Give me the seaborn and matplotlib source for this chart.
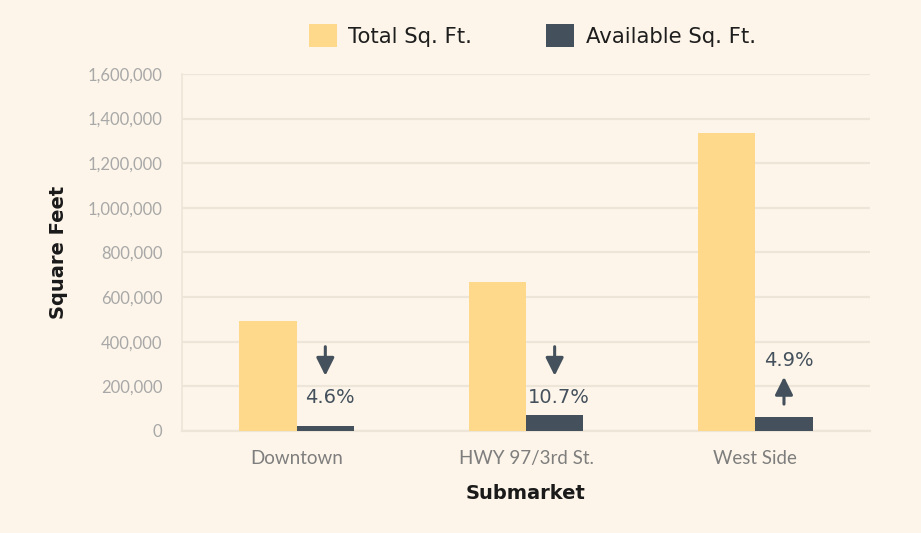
import pandas as pd
import matplotlib.pyplot as plt
import seaborn as sns
from matplotlib.patches import Patch

# ── data ───────────────────────────────────────────
submarkets = ['Downtown', 'HWY 97/3rd St.', 'West Side']
total_sqft = [493000, 668000, 1335000]
available_sqft = [22000, 72000, 64000]
vacancy_labels = ['4.6%', '10.7%', '4.9%']
vacancy_trend = ['down', 'down', 'up']

series_names = ['Total Sq. Ft.', 'Available Sq. Ft.']
yticks = [0, 200000, 400000, 600000, 800000, 1000000, 1200000, 1400000, 1600000]

df = pd.DataFrame({
    'Submarket': submarkets * 2,
    'sqft': total_sqft + available_sqft,
    'series': [series_names[0]] * 3 + [series_names[1]] * 3,
})

bg = '#FDF5E9'
yellow = '#FFD98B'
slate = '#44515D'
grid_c = '#EDE5D8'

sns.set_theme(style='white')
plt.rcParams['font.family'] = ['Lato', 'DejaVu Sans']

fig = plt.figure(figsize=(9.21, 5.33), dpi=100, facecolor=bg)
ax = fig.add_axes([0.1976, 0.1914, 0.747, 0.670])
ax.set_facecolor(bg)

sns.barplot(data=df, x='Submarket', y='sqft', hue='series',
            palette=[yellow, slate], saturation=1, width=0.5, ax=ax,
            edgecolor='none', legend=False, zorder=3)

ax.set_xlim(-0.5, 2.5)
ax.set_ylim(0, 1600000)
ax.set_yticks(yticks)
ax.set_yticklabels([f'{v:,}' for v in yticks], fontsize=12, color='#A8A8A8')
ax.set_xticks([0, 1, 2], submarkets)
ax.tick_params(axis='x', labelsize=13.5, labelcolor='#7E7E7E', length=0, pad=14)
ax.tick_params(axis='y', length=0, pad=14)
ax.set_xticks([-0.5, 0.5, 1.5, 2.5], minor=True)
ax.tick_params(axis='x', which='minor', length=5, color=grid_c, width=1.2)
ax.grid(axis='y', color=grid_c, linewidth=1.6, zorder=0)

for s in ['top', 'right']:
    ax.spines[s].set_visible(False)
ax.spines['left'].set_color(grid_c)
ax.spines['bottom'].set_color(grid_c)
ax.spines['left'].set_linewidth(1.2)
ax.spines['bottom'].set_linewidth(1.6)

ax.set_xlabel('Submarket', fontsize=14, fontweight='bold', color='#1A1A1A',
              family='DejaVu Sans', labelpad=12)
ax.set_ylabel('Square Feet', fontsize=14, fontweight='bold', color='#1A1A1A',
              family='DejaVu Sans', labelpad=14)

# vacancy change arrows and labels
arrow = dict(arrowstyle='-|>,head_width=0.45,head_length=0.9', color=slate, lw=2.2)
for i, (lab, trend) in enumerate(zip(vacancy_labels, vacancy_trend)):
    x = i + 0.125
    if trend == 'down':
        ax.annotate('', xy=(x, 235000), xytext=(x, 390000), arrowprops=arrow, zorder=4)
        ty = 150000
    else:
        ax.annotate('', xy=(x, 255000), xytext=(x, 108000), arrowprops=arrow, zorder=4)
        ty = 318000
    ax.text(x + 0.02, ty, lab, ha='center', va='center', fontsize=14,
            color=slate, family='DejaVu Sans', zorder=4)

handles = [Patch(facecolor=yellow, edgecolor='none'),
           Patch(facecolor=slate, edgecolor='none')]
fig.legend(handles, series_names, loc='center', bbox_to_anchor=(0.578, 0.933),
           ncol=2, frameon=False, handlelength=1.3, handleheight=1.3,
           columnspacing=3.5, handletextpad=0.55, labelcolor='#1E1E1E',
           prop={'family': 'DejaVu Sans', 'size': 15.3})

fig.savefig('out.png', dpi=100, facecolor=bg)
